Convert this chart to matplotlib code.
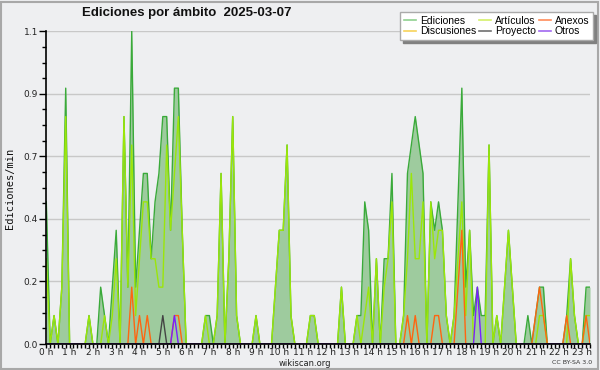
import numpy as np
import matplotlib
matplotlib.use("Agg")
import matplotlib.pyplot as plt
from matplotlib.lines import Line2D
from matplotlib.patches import Rectangle

# edits per minute, one value every 10 minutes (00:00 -> 23:20)
ediciones = [
    0.5, 0.0, 0.1, 0.0, 0.2, 0.9, 0.0, 0.0, 0.0, 0.0, 0.0, 0.1,
    0.0, 0.0, 0.2, 0.1, 0.0, 0.2, 0.4, 0.0, 0.8, 0.2, 1.1, 0.2,
    0.4, 0.6, 0.6, 0.3, 0.5, 0.6, 0.8, 0.8, 0.4, 0.9, 0.9, 0.4,
    0.0, 0.0, 0.0, 0.0, 0.0, 0.1, 0.1, 0.0, 0.1, 0.6, 0.0, 0.3,
    0.8, 0.1, 0.0, 0.0, 0.0, 0.0, 0.1, 0.0, 0.0, 0.0, 0.0, 0.2,
    0.4, 0.4, 0.7, 0.1, 0.0, 0.0, 0.0, 0.0, 0.1, 0.1, 0.0, 0.0,
    0.0, 0.0, 0.0, 0.0, 0.2, 0.0, 0.0, 0.0, 0.1, 0.1, 0.5, 0.4,
    0.0, 0.3, 0.0, 0.3, 0.3, 0.6, 0.0, 0.0, 0.1, 0.6, 0.7, 0.8,
    0.7, 0.6, 0.0, 0.5, 0.4, 0.5, 0.4, 0.1, 0.0, 0.1, 0.5, 0.9,
    0.2, 0.4, 0.1, 0.2, 0.1, 0.1, 0.7, 0.0, 0.1, 0.0, 0.2, 0.4,
    0.2, 0.0, 0.0, 0.0, 0.1, 0.0, 0.1, 0.2, 0.2, 0.0, 0.0, 0.0,
    0.0, 0.0, 0.1, 0.3, 0.1, 0.0, 0.0, 0.2, 0.2,
]
articulos = [
    0.3, 0.0, 0.1, 0.0, 0.2, 0.8, 0.0, 0.0, 0.0, 0.0, 0.0, 0.1,
    0.0, 0.0, 0.0, 0.1, 0.0, 0.1, 0.3, 0.0, 0.8, 0.2, 0.7, 0.1,
    0.3, 0.5, 0.5, 0.3, 0.3, 0.2, 0.2, 0.7, 0.4, 0.6, 0.8, 0.4,
    0.0, 0.0, 0.0, 0.0, 0.0, 0.1, 0.0, 0.0, 0.1, 0.6, 0.0, 0.3,
    0.8, 0.1, 0.0, 0.0, 0.0, 0.0, 0.1, 0.0, 0.0, 0.0, 0.0, 0.2,
    0.4, 0.4, 0.7, 0.1, 0.0, 0.0, 0.0, 0.0, 0.1, 0.1, 0.0, 0.0,
    0.0, 0.0, 0.0, 0.0, 0.2, 0.0, 0.0, 0.0, 0.1, 0.0, 0.1, 0.2,
    0.0, 0.3, 0.0, 0.2, 0.3, 0.5, 0.0, 0.0, 0.1, 0.3, 0.6, 0.3,
    0.3, 0.5, 0.0, 0.5, 0.3, 0.4, 0.4, 0.1, 0.0, 0.1, 0.3, 0.5,
    0.1, 0.4, 0.0, 0.0, 0.0, 0.0, 0.7, 0.0, 0.1, 0.0, 0.2, 0.4,
    0.2, 0.0, 0.0, 0.0, 0.0, 0.0, 0.0, 0.1, 0.1, 0.0, 0.0, 0.0,
    0.0, 0.0, 0.0, 0.3, 0.1, 0.0, 0.0, 0.1, 0.1,
]
# sparse series: {slot index: edits/min}
anexos = {22: 0.2, 24: 0.1, 26: 0.1, 33: 0.1, 34: 0.1, 93: 0.1, 95: 0.1,
          100: 0.1, 101: 0.1, 106: 0.2, 107: 0.4, 126: 0.1, 127: 0.2,
          128: 0.1, 134: 0.1, 139: 0.1}
proyecto = {30: 0.1}
otros = {33: 0.1, 111: 0.2}
discusiones = {}

hour_labels = [f"{h} h" for h in range(24)]
ytick_vals = [0.0, 0.22, 0.44, 0.66, 0.88, 1.1]

BG = "#eeeff1"
n = len(ediciones)
t = np.arange(n) / 6.0


def dense(points):
    arr = np.zeros(n)
    for k, v in points.items():
        arr[k] = v
    return arr


fig = plt.figure(figsize=(6, 3.7), dpi=100, facecolor=BG)
ax = fig.add_axes([46.3 / 600, 26 / 370, (590 - 46.3) / 600, (344 - 31.3) / 370])
ax.set_facecolor(BG)

# total with filled area
ax.fill_between(t, ediciones, 0, color="#9ecb9e", lw=0, zorder=1)
ax.plot(t, ediciones, color="#3aaa3a", lw=1.0, zorder=2)
ax.plot(t, articulos, color="#9be60a", lw=1.0, zorder=2.1)
ax.plot(t, dense(discusiones), color="#f5c400", lw=1.0, zorder=2.1)
ax.plot(t, dense(anexos), color="#ff6510", lw=1.0, zorder=2.2)
ax.plot(t, dense(proyecto), color="#444444", lw=1.0, zorder=2.2)
ax.plot(t, dense(otros), color="#7a1fff", lw=1.0, zorder=2.3)

ax.set_xlim(0, t[-1])
ax.set_ylim(0, 1.1)

for s in ("top", "right"):
    ax.spines[s].set_visible(False)
for s in ("left", "bottom"):
    ax.spines[s].set_color("black")
    ax.spines[s].set_linewidth(1.2)
    ax.spines[s].set_zorder(5)

ax.set_yticks(ytick_vals)
ax.set_yticklabels([f"{v:.1f}" for v in ytick_vals])
ax.set_yticks(np.arange(0, 1.1001, 0.055), minor=True)
ax.set_xticks(np.arange(24))
ax.set_xticklabels(hour_labels)
ax.set_xticks(np.arange(0, t[-1] + 0.01, 1 / 6), minor=True)

ax.tick_params(axis="both", which="major", labelsize=6.5, colors="black",
               labelcolor="#222222", width=1, length=5, pad=1)
ax.tick_params(axis="both", which="minor", width=1, length=3, colors="black")
ax.tick_params(axis="x", which="major", length=3, pad=0)

ax.grid(axis="y", which="major", color="#c8c8c8", lw=1, zorder=0)
ax.set_axisbelow(True)

fig.text(187 / 600, 1 - 13 / 370, "Ediciones por ámbito  2025-03-07",
         ha="center", va="center", fontsize=9.5, fontweight="bold",
         family="Liberation Sans", color="#111111")
fig.text(10 / 600, 0.49, "Ediciones/min", rotation=90, ha="center",
         va="center", fontsize=7.5, family="DejaVu Sans Mono", color="#111111")
fig.text(305 / 600, 1 - 363 / 370, "wikiscan.org", ha="center", va="center",
         fontsize=6, color="#222222")
fig.text(592 / 600, 1 - 363 / 370, "CC BY-SA 3.0", ha="right", va="center",
         fontsize=4.5, color="#333333")

# legend
names = ["Ediciones", "Discusiones", "Artículos", "Proyecto", "Anexos", "Otros"]
lcolors = ["#8fd18f", "#f7d35a", "#d4f06a", "#707070", "#ff8c5a", "#a168f0"]
handles = [Line2D([], [], color=c, lw=1.2) for c in lcolors]
leg = fig.legend(handles, names, ncol=3, loc="upper right",
                 bbox_to_anchor=(593 / 600, 1 - 12 / 370), borderaxespad=0,
                 prop={"family": "Liberation Sans", "size": 7.5},
                 handlelength=1.2, handletextpad=0.35,
                 columnspacing=0.25, labelspacing=0.05, borderpad=0.35,
                 fancybox=False, framealpha=1,
                 shadow={"color": "#808080", "alpha": 1})
leg.get_frame().set_edgecolor("#aaaaaa")
leg.get_frame().set_linewidth(1)

# outer frame
fig.patches.append(Rectangle((1 / 600, 1 / 370), 597 / 600, 367 / 370,
                             transform=fig.transFigure, fill=False,
                             edgecolor="#a8a8a8", lw=1.5))

fig.savefig("out.png", dpi=100, facecolor=BG)
